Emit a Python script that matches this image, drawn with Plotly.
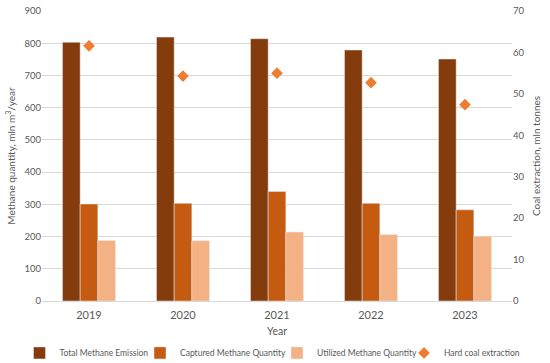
import plotly.graph_objects as go

years = ["2019", "2020", "2021", "2022", "2023"]
total_emission = [803, 819, 814, 779, 751]
captured = [301, 303, 340, 303, 283]
utilized = [188, 187, 214, 206, 201]
coal_extraction = [61.6, 54.3, 55.0, 52.7, 47.4]

font_family = "Lato, Noto Sans, sans-serif"
grey = "#595959"

fig = go.Figure()
fig.add_trace(go.Bar(x=years, y=total_emission, name="Total Methane Emission",
                     marker=dict(color="#843C0C"), legend="legend2"))
fig.add_trace(go.Bar(x=years, y=captured, name="Captured Methane Quantity",
                     marker=dict(color="#C55A11"), legend="legend3"))
fig.add_trace(go.Bar(x=years, y=utilized, name="Utilized Methane Quantity",
                     marker=dict(color="#F4B183"), legend="legend4"))
fig.add_trace(go.Scatter(x=years, y=coal_extraction, name="Hard coal extraction",
                         mode="markers", yaxis="y2", legend="legend5",
                         marker=dict(symbol="diamond", size=9, color="#ED7D31")))

leg_common = dict(orientation="h", y=-0.179, yanchor="middle", xanchor="left",
                  font=dict(size=8.5, color=grey), itemwidth=30,
                  bgcolor="rgba(0,0,0,0)")

def lx(px):
    return (px - 42) / 470

fig.update_layout(
    width=550, height=363,
    margin=dict(l=42, r=38, t=11, b=62, autoexpand=False),
    paper_bgcolor="white", plot_bgcolor="white",
    font=dict(family=font_family, size=10, color=grey),
    barmode="group", bargap=0.436, bargroupgap=0,
    showlegend=True,
    xaxis=dict(title=dict(text="Year", font=dict(size=10.5), standoff=7),
               tickfont=dict(size=11), showgrid=False, automargin=False,
               ticklabelstandoff=4,
               showline=True, linecolor="#d9d9d9", ticks=""),
    yaxis=dict(title=dict(text="Methane quantity, mln m<sup>3</sup>/year", font=dict(size=10), standoff=6),
               range=[0, 900], dtick=100, gridcolor="#d9d9d9", zeroline=False,
               tickfont=dict(size=9.5), automargin=False),
    yaxis2=dict(title=dict(text="Coal extraction, mln tonnes", font=dict(size=10), standoff=9),
                range=[0, 70], dtick=10, overlaying="y", side="right",
                showgrid=False, zeroline=False, tickfont=dict(size=9.5), automargin=False),
    legend2=dict(x=lx(19.5), **leg_common),
    legend3=dict(x=lx(140), **leg_common),
    legend4=dict(x=lx(277), **leg_common),
    legend5=dict(x=lx(404), **leg_common),
)

fig.write_html("out.html", config={"displayModeBar": False},
               post_script="document.body.style.margin='0';")
